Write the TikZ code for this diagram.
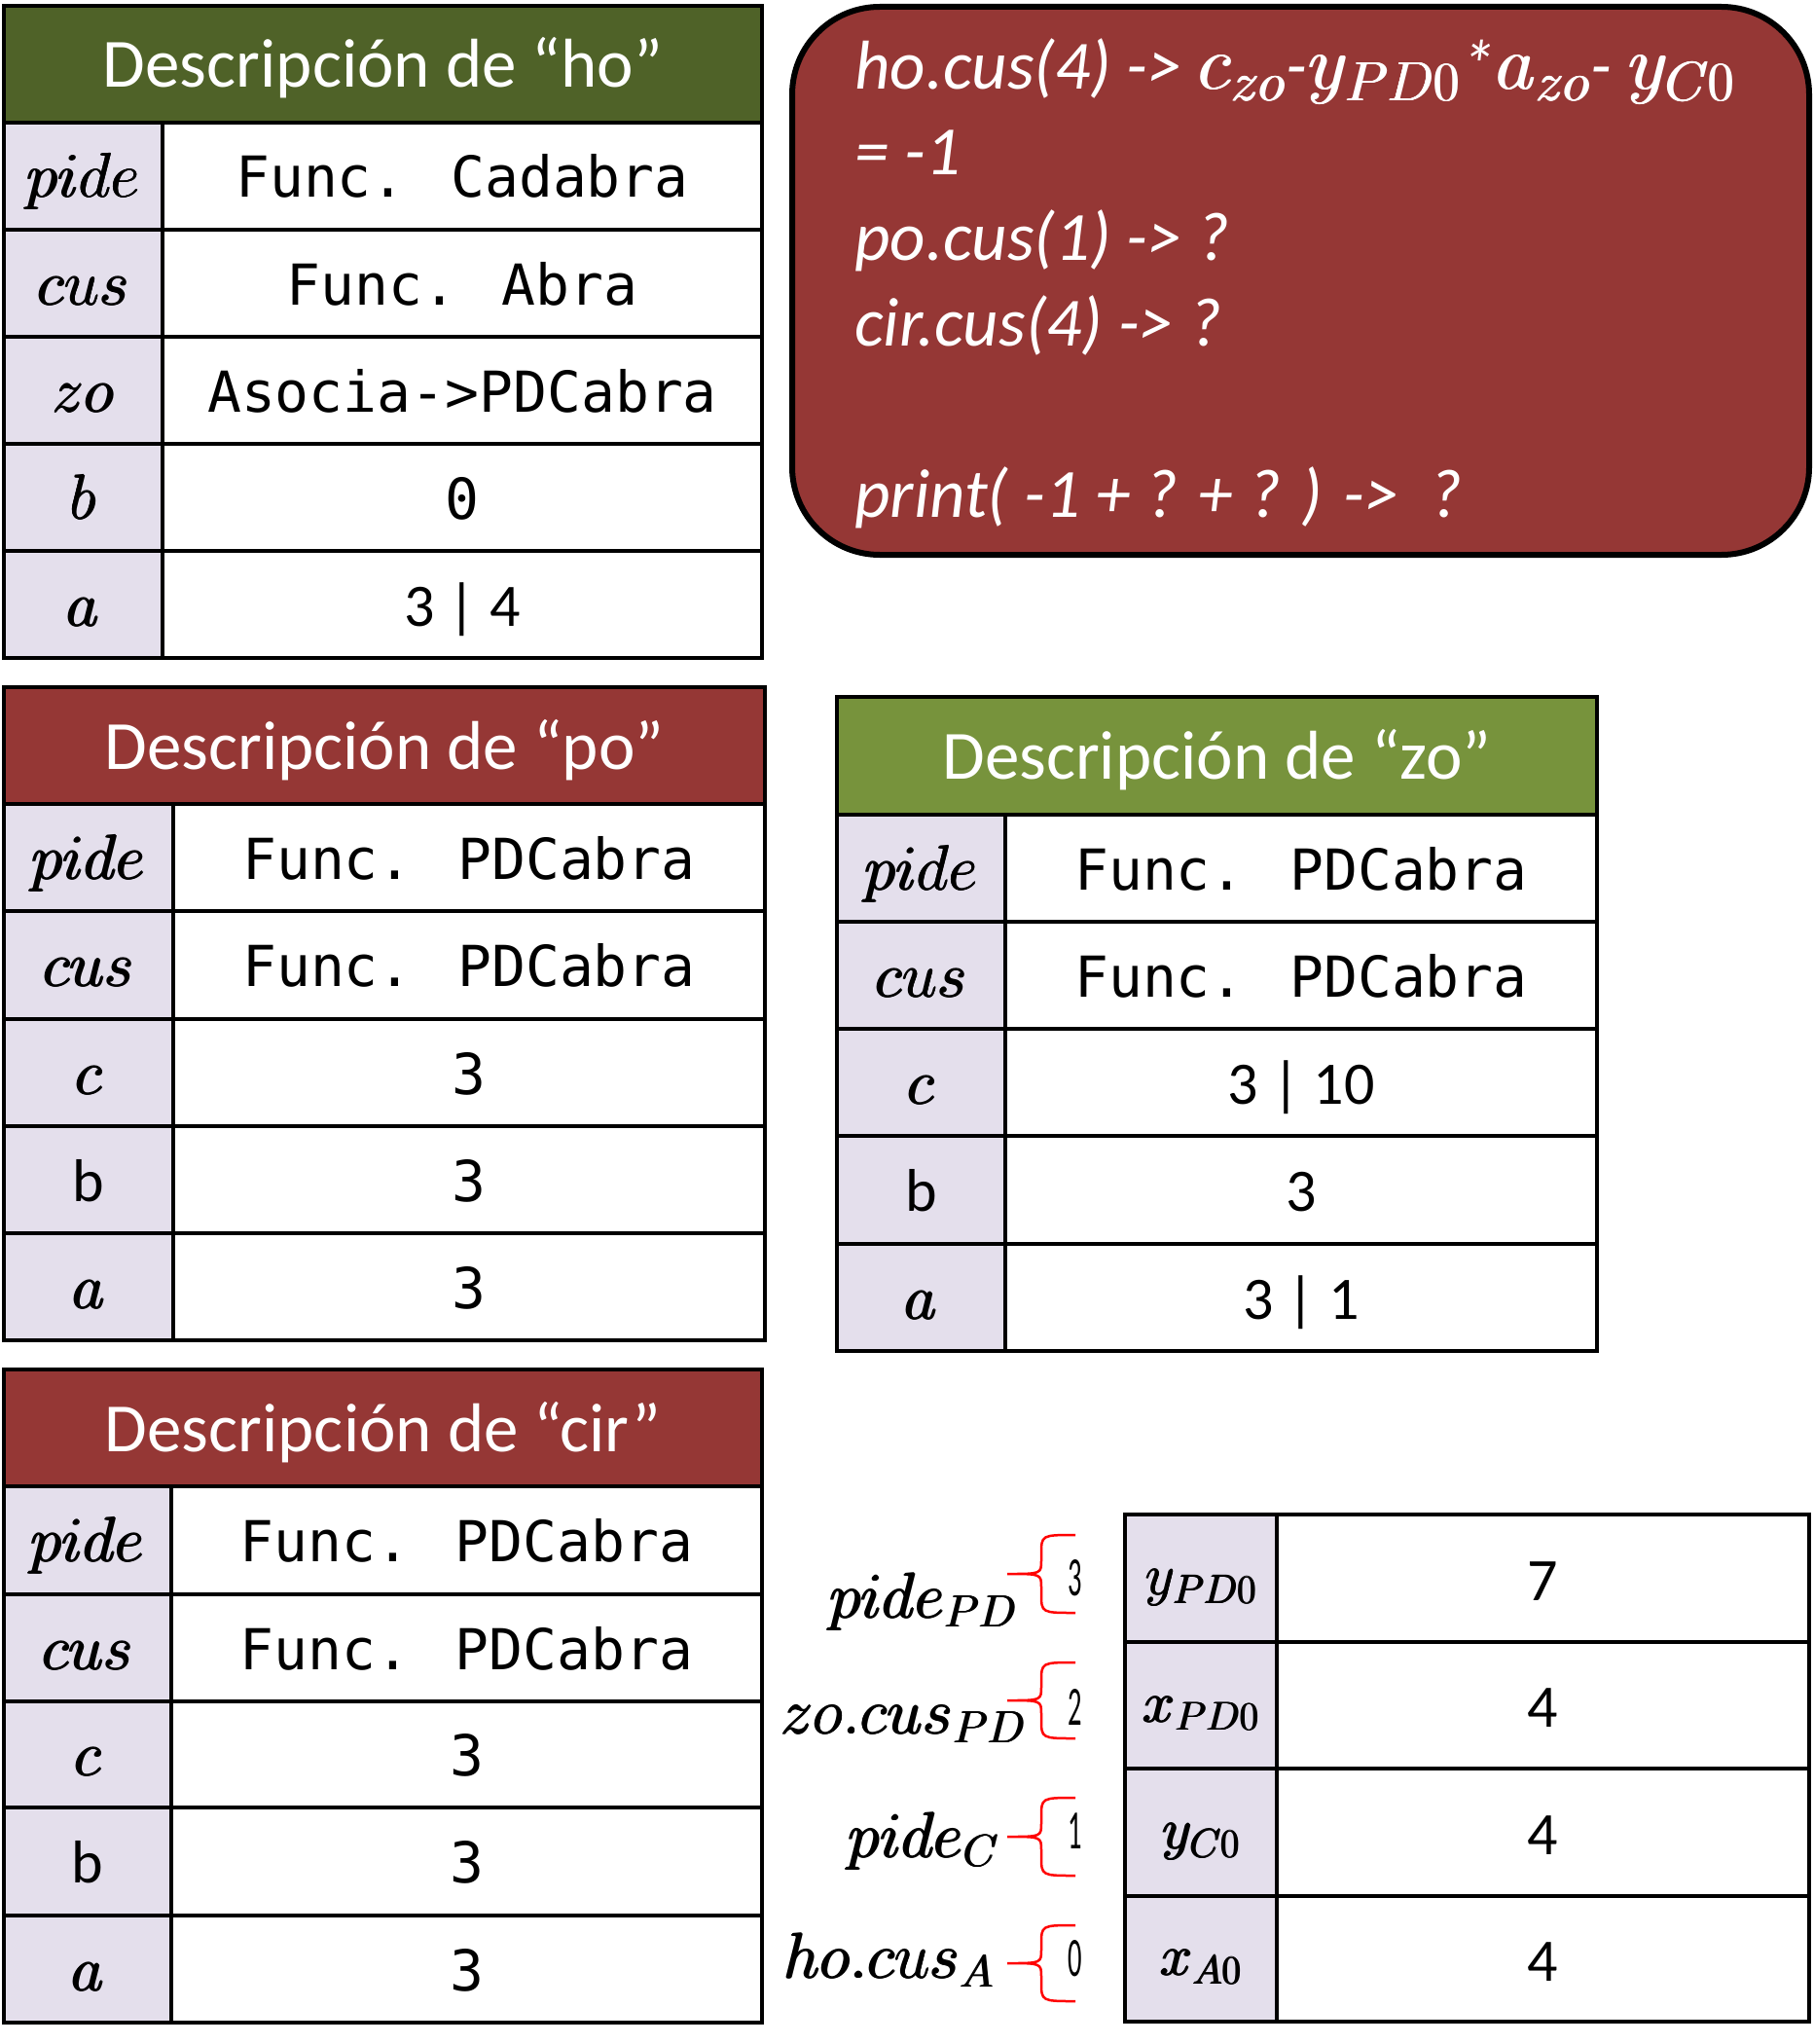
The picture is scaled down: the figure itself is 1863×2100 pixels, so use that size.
\RequirePackage{fix-cm}
\documentclass[tikz,border=0pt]{standalone}
\usepackage{fontspec}
\usepackage{graphicx}
\newfontfamily\carl{Carlito}
\newfontfamily\monof{DejaVu Sans Mono}
\definecolor{hoGreen}{HTML}{4F6228}
\definecolor{zoGreen}{HTML}{77933C}
\definecolor{darkRed}{HTML}{953735}
\definecolor{lav}{HTML}{E4DFEC}
\definecolor{braceRed}{HTML}{FF0000}
\DeclareMathSizes{71}{79}{57}{42}
% slightly heavier math: overprint with small offsets
\newcommand\fb[1]{\makebox[0pt][l]{#1}\makebox[0pt][l]{\kern0.9pt#1}\makebox[0pt][l]{\kern0.9pt\raisebox{0.7pt}{#1}}\kern1.8pt#1}
\newcommand\mt[1]{\fb{$#1$}}
\tikzset{
 cell/.style={draw=black, line width=3.5pt, inner sep=0pt, outer sep=0pt, anchor=north west, text height=50pt, text depth=6pt},
 hdr/.style={cell, text=white, font=\carl\fontsize{71}{85}\selectfont, text height=52pt, text depth=4pt},
 lab/.style={cell, fill=lav, font=\fontsize{65}{78}\selectfont},
 val/.style={cell, fill=white},
 mono/.style={font=\monof\fontsize{58}{70}\selectfont},
 cal/.style={font=\carl\fontsize{62}{74}\selectfont},
 boxtxt/.style={anchor=base west, inner sep=0pt, text=white, font=\carl\itshape\fontsize{71}{85}\selectfont},
 sidelab/.style={anchor=base east, inner sep=0pt, font=\fontsize{66}{80}\selectfont},
 bracepath/.style={draw=braceRed, line width=2.5pt},
 brdigit/.style={anchor=base, inner sep=0pt, font=\carl\fontsize{57}{68}\selectfont},
}
% name, x0, xc, x1, ytop, ybot, label, value style, value
\newcommand\fila[9]{%
  \node[lab, minimum width={#3-#2}, minimum height={#6-#5}] (#1l) at (#2,#5) {#7};
  \node[val, #8, minimum width={#4-#3}, minimum height={#6-#5}] (#1v) at (#3,#5) {#9};}
% name, ytop, ybot, label, value
\newcommand\filab[5]{%
  \node[lab, font=\fontsize{59}{70}\selectfont, text height=40pt, text depth=6pt, minimum width={1312-1156}, minimum height={#3-#2}] (#1l) at (1156,#2) {#4};
  \node[val, cal, text height=50pt, text depth=5pt, minimum width={1859-1312}, minimum height={#3-#2}] (#1v) at (1312,#2) {#5};}
% ytop, ybot
\newcommand\llave[2]{%
  \draw[bracepath] (1105,#1) .. controls (1070,#1) .. (1070,{#1+20})
    -- (1070,{(#1+#2)/2-14}) .. controls (1070,{(#1+#2)/2}) .. (1035,{(#1+#2)/2})
    .. controls (1070,{(#1+#2)/2}) .. (1070,{(#1+#2)/2+14})
    -- (1070,{#2-20}) .. controls (1070,#2) .. (1105,#2);}
\begin{document}
\begin{tikzpicture}[x=1pt,y=-1pt]
\useasboundingbox (0,0) rectangle (1863,2100);
% ---- ho
\node[hdr, fill=hoGreen, minimum width={783-4}, minimum height={126-6}] (hoH) at (4,6) {Descripción de “ho”};
\fila{hoA}{4}{167}{783}{126}{236}{\mt{pide}}{mono}{Func. Cadabra}
\fila{hoB}{4}{167}{783}{236}{346}{\mt{cus}}{mono}{Func. Abra}
\fila{hoC}{4}{167}{783}{346}{456}{\mt{zo}}{mono}{Asocia->PDCabra}
\fila{hoD}{4}{167}{783}{456}{566}{\mt{b}}{mono}{0}
\fila{hoE}{4}{167}{783}{566}{676}{\mt{a}}{cal}{3 | 4}
% ---- po
\node[hdr, fill=darkRed, minimum width={786-4}, minimum height={826-706}] (poH) at (4,706) {Descripción de “po”};
\fila{poA}{4}{178}{786}{826}{936}{\mt{pide}}{mono}{Func. PDCabra}
\fila{poB}{4}{178}{786}{936}{1047}{\mt{cus}}{mono}{Func. PDCabra}
\fila{poC}{4}{178}{786}{1047}{1157}{\mt{c}}{mono}{3}
\fila{poD}{4}{178}{786}{1157}{1267}{{\carl\fontsize{62}{74}\selectfont b}}{mono}{3}
\fila{poE}{4}{178}{786}{1267}{1377}{\mt{a}}{mono}{3}
% ---- zo
\node[hdr, fill=zoGreen, minimum width={1641-860}, minimum height={837-716}] (zoH) at (860,716) {Descripción de “zo”};
\fila{zoA}{860}{1033}{1641}{837}{947}{\mt{pide}}{mono}{Func. PDCabra}
\fila{zoB}{860}{1033}{1641}{947}{1057}{\mt{cus}}{mono}{Func. PDCabra}
\fila{zoC}{860}{1033}{1641}{1057}{1167}{\mt{c}}{cal}{3 | 10}
\fila{zoD}{860}{1033}{1641}{1167}{1278}{{\carl\fontsize{62}{74}\selectfont b}}{cal}{3}
\fila{zoE}{860}{1033}{1641}{1278}{1388}{\mt{a}}{cal}{3 | 1}
% ---- cir
\node[hdr, fill=darkRed, minimum width={783-4}, minimum height={1527-1407}] (cirH) at (4,1407) {Descripción de “cir”};
\fila{ciA}{4}{176}{783}{1527}{1638}{\mt{pide}}{mono}{Func. PDCabra}
\fila{ciB}{4}{176}{783}{1638}{1748}{\mt{cus}}{mono}{Func. PDCabra}
\fila{ciC}{4}{176}{783}{1748}{1857}{\mt{c}}{mono}{3}
\fila{ciD}{4}{176}{783}{1857}{1968}{{\carl\fontsize{62}{74}\selectfont b}}{mono}{3}
\fila{ciE}{4}{176}{783}{1968}{2078}{\mt{a}}{mono}{3}
% ---- box
\node[draw=black, line width=6pt, fill=darkRed, rounded corners=90pt, inner sep=0pt, outer sep=0pt, anchor=north west, minimum width={1859-814}, minimum height={570-7}] (caja) at (814,7) {};
\node[boxtxt] (t1) at (878,92) {ho.cus(4) -> \mt{c_{zo}}-\mt{y_{PD0}}*\mt{a_{zo}}- \mt{y_{C0}}};
\node[boxtxt] (t2) at (878,180) {= -1};
\node[boxtxt] (t3) at (878,267) {po.cus(1) -> ?};
\node[boxtxt] (t4) at (878,355) {cir.cus(4) -> ?};
\node[boxtxt] (t5) at (878,531) {print( -1 + ? + ? ) ->\ \ ?};
% ---- bottom table
\filab{bA}{1556}{1687}{\mt{y_{PD0}}}{7}
\filab{bB}{1687}{1817}{\mt{x_{PD0}}}{4}
\filab{bC}{1817}{1948}{\mt{y_{C0}}}{4}
\filab{bD}{1948}{2077}{\mt{x_{A0}}}{4}
% ---- side labels
\node[sidelab] (s1) at (1046,1662) {\mt{pide_{PD}}};
\node[sidelab] (s2) at (1055,1781) {\mt{zo.cus_{PD}}};
\node[sidelab] (s3) at (1027,1908) {\mt{pide_{C}}};
\node[sidelab] (s4) at (1022,2032) {\mt{ho.cus_{A}}};
\llave{1577}{1657}
\llave{1708}{1786}
\llave{1847}{1927}
\llave{1978}{2056}
\node[brdigit] (d1) at (1105,1639) {\scalebox{0.5}[1]{3}};
\node[brdigit] (d2) at (1105,1772) {\scalebox{0.5}[1]{2}};
\node[brdigit] (d3) at (1105,1899) {\scalebox{0.5}[1]{1}};
\node[brdigit] (d4) at (1105,2030) {\scalebox{0.5}[1]{0}};
\end{tikzpicture}
\end{document}
